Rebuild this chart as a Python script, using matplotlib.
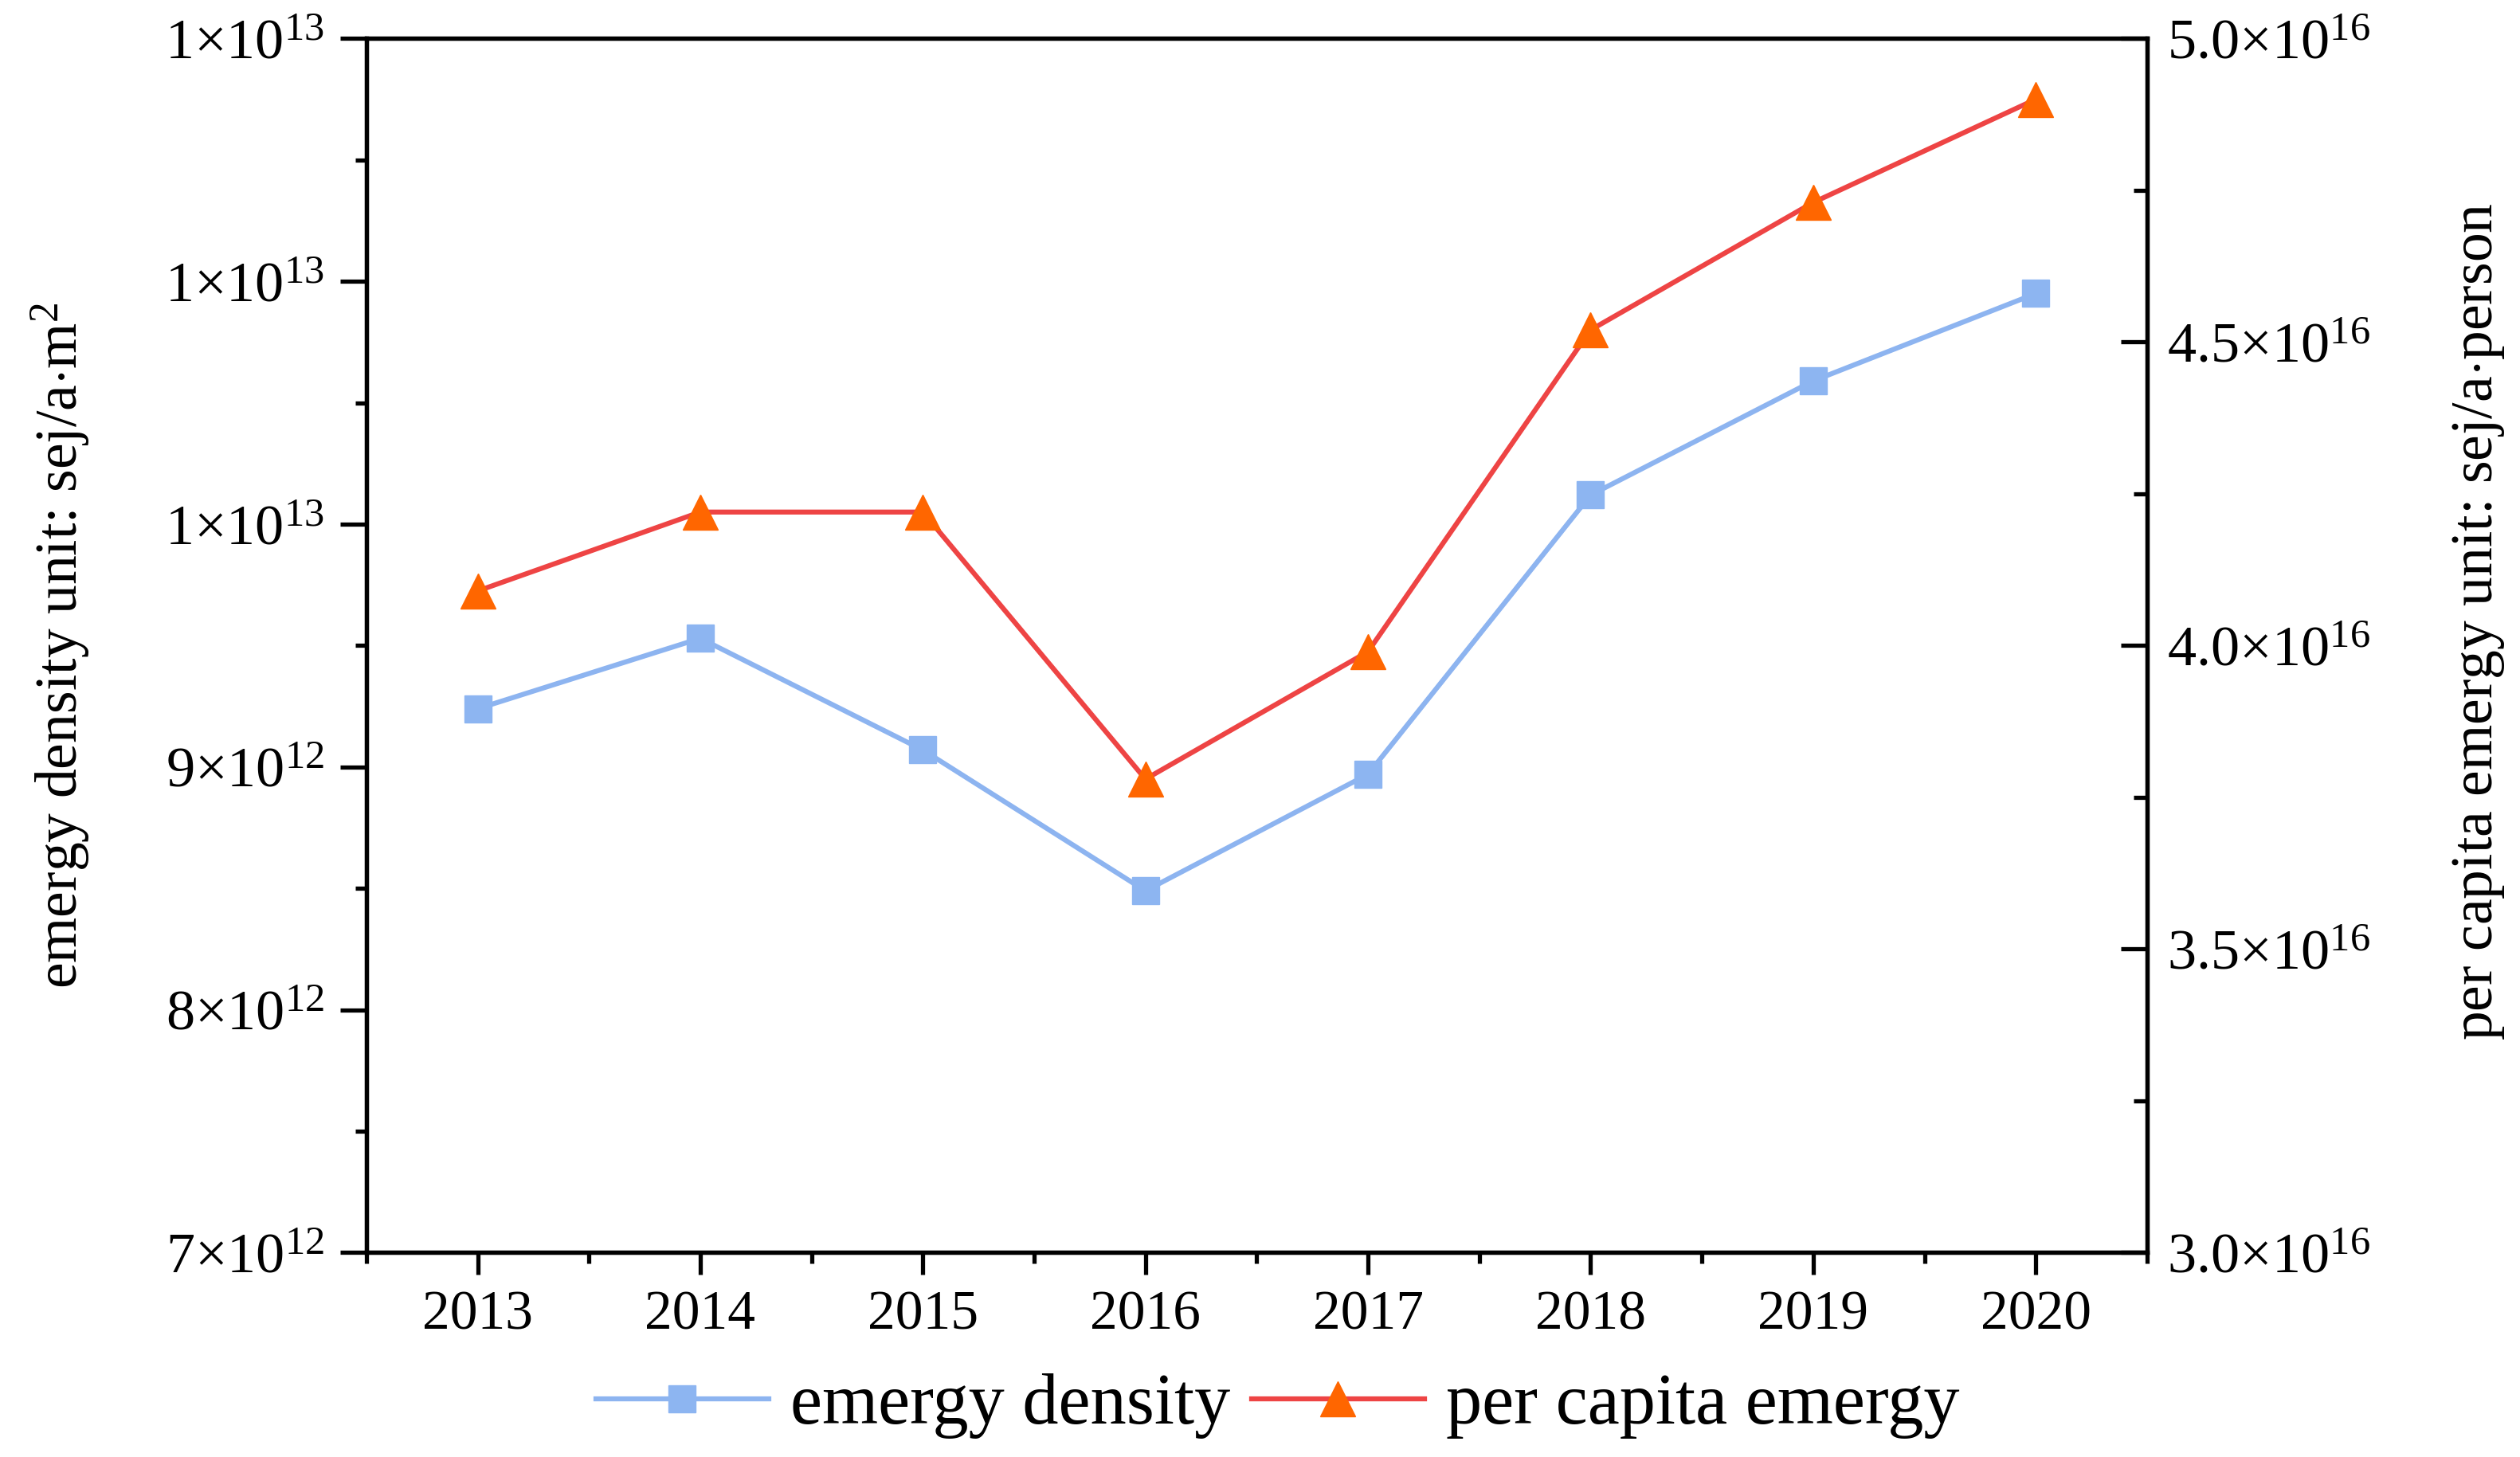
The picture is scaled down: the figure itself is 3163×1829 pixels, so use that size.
import numpy as np
import matplotlib
matplotlib.use('Agg')
import matplotlib.pyplot as plt
from matplotlib.ticker import MultipleLocator, FuncFormatter

plt.rcParams['font.family'] = ['Liberation Serif', 'DejaVu Serif']
plt.rcParams['mathtext.fontset'] = 'custom'
plt.rcParams['mathtext.rm'] = 'Liberation Serif'
plt.rcParams['mathtext.it'] = 'Liberation Serif:italic'

# data
years = [2013, 2014, 2015, 2016, 2017, 2018, 2019, 2020]
emergy_density = [9.24e12, 9.53e12, 9.07e12, 8.49e12, 8.97e12, 10.12e12, 10.59e12, 10.95e12]
per_capita = [4.09e16, 4.22e16, 4.22e16, 3.78e16, 3.99e16, 4.52e16, 4.73e16, 4.90e16]

label_left = 'emergy density unit: sej/a$\\cdot$m$^{\\mathrm{2}}$'
label_right = 'per capita emergy unit: sej/a$\\cdot$person'
name_density = 'emergy density'
name_capita = 'per capita emergy'


def sci_fmt(decimals):
    def f(v, pos):
        e = int(np.floor(np.log10(v)))
        m = v / 10 ** e
        return ('%.' + str(decimals) + 'f') % m + '×10$^{\\mathrm{' + str(e) + '}}$'
    return f


fig = plt.figure(figsize=(31.63, 18.29), dpi=100)
ax = fig.add_axes([0.1454, 0.1403, 0.7066, 0.8332])
ax2 = ax.twinx()

l1, = ax.plot(years, emergy_density, color='#8db4f0', lw=4.5, marker='s', ms=25,
              markerfacecolor='#8db5f1', markeredgecolor='#8db5f1', label=name_density)
l2, = ax2.plot(years, per_capita, color='#ee4444', lw=4.5, marker='^', ms=31,
               markerfacecolor='#ff6600', markeredgecolor='#ff6600', label=name_capita)

ax.set_xlim(2012.5, 2020.5)
ax.set_ylim(7e12, 1.2e13)
ax2.set_ylim(3.0e16, 5.0e16)

ax.set_xticks(years)
ax.xaxis.set_minor_locator(MultipleLocator(0.5))
ax.yaxis.set_major_locator(MultipleLocator(1e12))
ax.yaxis.set_minor_locator(MultipleLocator(5e11))
ax2.yaxis.set_major_locator(MultipleLocator(0.5e16))
ax2.yaxis.set_minor_locator(MultipleLocator(0.25e16))
ax.yaxis.set_major_formatter(FuncFormatter(sci_fmt(0)))
ax2.yaxis.set_major_formatter(FuncFormatter(sci_fmt(1)))

ax.tick_params(axis='x', which='major', direction='out', length=20, width=3.8, labelsize=50, pad=14)
ax.tick_params(axis='x', which='minor', direction='out', length=10, width=3.8)
ax.tick_params(axis='y', which='major', direction='out', length=24, width=3.8, labelsize=52, pad=14)
ax.tick_params(axis='y', which='minor', direction='out', length=10, width=3.8)
ax2.tick_params(axis='y', which='major', direction='in', length=24, width=3.8, labelsize=52, pad=18)
ax2.tick_params(axis='y', which='minor', direction='in', length=12, width=3.8)

for a in (ax, ax2):
    for s in a.spines.values():
        s.set_linewidth(3.8)

ax.set_ylabel(label_left, fontsize=53)
ax.yaxis.set_label_coords(-0.172, 0.5)
ax.yaxis.label.set_va('center')
ax2.set_ylabel(label_right, fontsize=53, rotation=90)
ax2.yaxis.set_label_coords(1.186, 0.52)
ax2.yaxis.label.set_va('center')

fig.legend(handles=[l1, l2], loc='center', bbox_to_anchor=(0.507, 0.035), ncol=2,
           frameon=False, fontsize=65, handlelength=2.4, handletextpad=0.3,
           columnspacing=0.3)

plt.savefig('out.png', dpi=100)
